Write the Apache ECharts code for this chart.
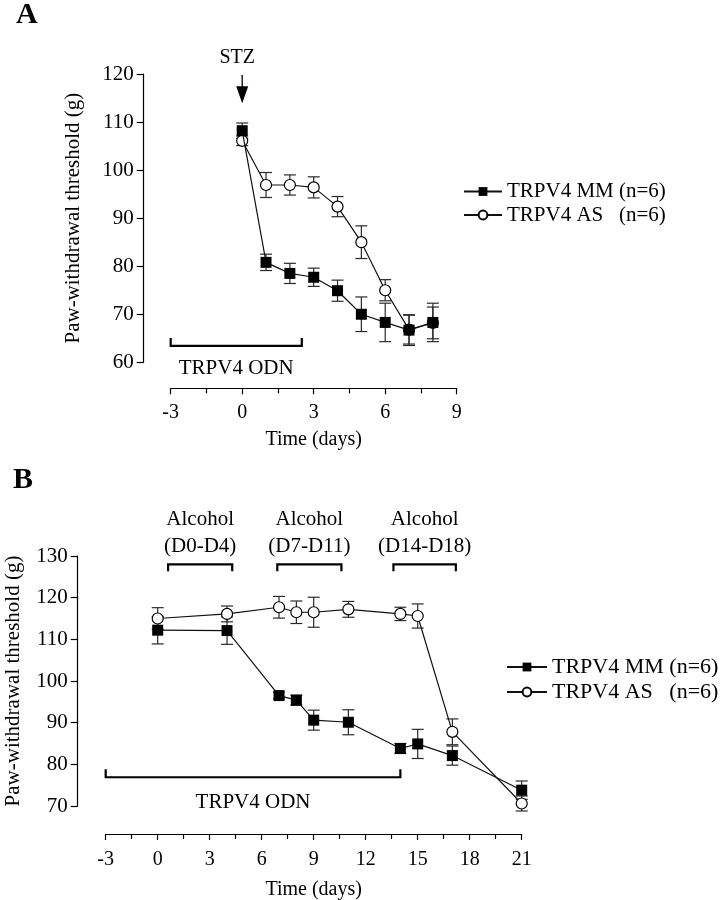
<!DOCTYPE html>
<html><head><meta charset="utf-8">
<script src="https://cdn.jsdelivr.net/npm/echarts@6/dist/echarts.min.js"></script>
<style>html,body{margin:0;padding:0;background:#fff}#c{width:721px;height:900px}</style>
</head><body><div id="c"></div>
<script>
const FONT = 'Liberation Serif';
const NAME_MM = 'TRPV4 MM (n=6)';
const NAME_AS = 'TRPV4 AS   (n=6)';

// ---- Panel A data ----
const daysA = [0, 1, 2, 3, 4, 5, 6, 7, 8];
const mmA    = [108.2, 80.8, 78.5, 77.7, 74.9, 70.0, 68.3, 66.7, 68.3];
const mmAErr = [1.6, 1.7, 2.1, 1.9, 2.2, 3.6, 4.0, 3.2, 4.0];
const asA    = [106.1, 96.9, 96.9, 96.4, 92.4, 85.0, 75.0, 66.8, 68.2];
const asAErr = [1.0, 2.6, 2.1, 2.2, 2.1, 3.4, 2.2, 3.0, 3.3];

// ---- Panel B data ----
const daysB = [0, 4, 7, 8, 9, 11, 14, 15, 17, 21];
const mmB    = [112.2, 112.1, 96.5, 95.4, 90.6, 90.1, 83.8, 84.9, 82.1, 73.8];
const mmBErr = [3.3, 3.3, 0.8, 1.2, 2.4, 3.0, 1.2, 3.5, 2.3, 2.2];
const asB    = [115.0, 116.1, 117.7, 116.5, 116.5, 117.2, 116.1, 115.6, 87.8, 70.6];
const asBErr = [2.6, 1.9, 2.6, 2.7, 3.6, 1.9, 1.6, 2.9, 3.1, 1.8];

// ---- Axis ranges / ticks ----
const xRangeA = [-3, 9, 3];
const yRangeA = [60, 120, 10];
const xRangeB = [-3, 21, 3];
const yRangeB = [70, 130, 10];

// ---- Annotations (data coordinates) ----
const odnA = [[-3, 2.5, 63.4]];
const odnTextA = ['TRPV4 ODN'];
const stzA = [[0, 119.8, 113.9]];
const stzText = ['STZ'];
const odnB = [[-3, 14, 76.9]];
const odnTextB = ['TRPV4 ODN'];
const alcB = [[0.6, 4.3, 128.0], [6.9, 10.6, 128.0], [13.6, 17.2, 128.0]];
const alcText1 = ['Alcohol', 'Alcohol', 'Alcohol'];
const alcText2 = ['(D0-D4)', '(D7-D11)', '(D14-D18)'];

const pts = (xs, ys) => xs.map((x, i) => [x, ys[i]]);
const errs = (xs, ys, es) => xs.map((x, i) => [x, ys[i], es[i]]);

function errRender(params, api) {
  const x = api.value(0), y = api.value(1), e = api.value(2);
  const t = api.coord([x, y + e]), b = api.coord([x, y - e]);
  const hw = 6;
  const st = { stroke: '#2a2a2a', lineWidth: 1.2 };
  return { type: 'group', children: [
    { type: 'line', shape: { x1: t[0], y1: t[1], x2: b[0], y2: b[1] }, style: st },
    { type: 'line', shape: { x1: t[0] - hw, y1: t[1], x2: t[0] + hw, y2: t[1] }, style: st },
    { type: 'line', shape: { x1: b[0] - hw, y1: b[1], x2: b[0] + hw, y2: b[1] }, style: st }
  ]};
}

function bracketUpRender(texts, textGap) {
  return function (params, api) {
    const a = api.coord([api.value(0), api.value(2)]);
    const b = api.coord([api.value(1), api.value(2)]);
    const leg = 8;
    const st = { stroke: '#000', lineWidth: 2.2, fill: null };
    return { type: 'group', children: [
      { type: 'polyline', shape: { points: [[a[0], a[1] - leg], [a[0], a[1]], [b[0], b[1]], [b[0], b[1] - leg]] }, style: st },
      { type: 'text', x: (a[0] + b[0]) / 2, y: a[1] + textGap,
        style: { text: texts[params.dataIndex], fontFamily: FONT, fontSize: 21, fill: '#000', align: 'center', verticalAlign: 'middle' } }
    ]};
  };
}

function bracketDownRender(params, api) {
  const a = api.coord([api.value(0), api.value(2)]);
  const b = api.coord([api.value(1), api.value(2)]);
  const leg = 7;
  const st = { stroke: '#000', lineWidth: 2.2, fill: null };
  const cx = (a[0] + b[0]) / 2;
  return { type: 'group', children: [
    { type: 'polyline', shape: { points: [[a[0], a[1] + leg], [a[0], a[1]], [b[0], b[1]], [b[0], b[1] + leg]] }, style: st },
    { type: 'text', x: cx, y: a[1] - 45, style: { text: alcText1[params.dataIndex], fontFamily: FONT, fontSize: 21, fill: '#000', align: 'center', verticalAlign: 'middle' } },
    { type: 'text', x: cx, y: a[1] - 18, style: { text: alcText2[params.dataIndex], fontFamily: FONT, fontSize: 21, fill: '#000', align: 'center', verticalAlign: 'middle' } }
  ]};
}

function arrowRender(params, api) {
  const t = api.coord([api.value(0), api.value(1)]);
  const b = api.coord([api.value(0), api.value(2)]);
  return { type: 'group', children: [
    { type: 'line', shape: { x1: t[0], y1: t[1], x2: b[0], y2: b[1] - 10 }, style: { stroke: '#000', lineWidth: 1.3 } },
    { type: 'polygon', shape: { points: [[b[0] - 6, b[1] - 17], [b[0] + 6, b[1] - 17], [b[0], b[1]]] }, style: { fill: '#000' } },
    { type: 'text', x: t[0] - 5, y: t[1] - 17, style: { text: stzText[params.dataIndex], fontFamily: FONT, fontSize: 20, fill: '#000', align: 'center', verticalAlign: 'middle' } }
  ]};
}

function xAxisCfg(gi, r, offset, margin, nameGap) {
  return {
    gridIndex: gi, type: 'value', min: r[0], max: r[1], interval: r[2], offset: offset,
    axisLine: { show: true, onZero: false, lineStyle: { color: '#000', width: 1.2 } },
    axisTick: { show: true, length: 6, lineStyle: { color: '#000', width: 1.2 } },
    minorTick: { show: true, splitNumber: 2, length: 5, lineStyle: { color: '#000', width: 1.2 } },
    splitLine: { show: false },
    axisLabel: { fontFamily: FONT, fontSize: 20, color: '#000', margin: margin },
    name: 'Time (days)', nameLocation: 'middle', nameGap: nameGap,
    nameTextStyle: { fontFamily: FONT, fontSize: 20, color: '#000' }
  };
}
function yAxisCfg(gi, r, offset, nameGap) {
  return {
    gridIndex: gi, type: 'value', min: r[0], max: r[1], interval: r[2], offset: offset,
    axisLine: { show: true, onZero: false, lineStyle: { color: '#000', width: 1.2 } },
    axisTick: { show: true, length: 7, lineStyle: { color: '#000', width: 1.2 } },
    splitLine: { show: false },
    axisLabel: { fontFamily: FONT, fontSize: 21, color: '#000', margin: 10 },
    name: 'Paw-withdrawal threshold (g)', nameLocation: 'middle', nameGap: nameGap, nameRotate: 90,
    nameTextStyle: { fontFamily: FONT, fontSize: 21, color: '#000' }
  };
}

const mmStyle = { symbol: 'rect', symbolSize: 11, itemStyle: { color: '#000' }, lineStyle: { color: '#111', width: 1.2 } };
const asStyle = { symbol: 'circle', symbolSize: 11, itemStyle: { color: '#fff', borderColor: '#000', borderWidth: 1.2 }, lineStyle: { color: '#111', width: 1.2 } };

const chart = echarts.init(document.getElementById('c'), null, { renderer: 'canvas' });
chart.setOption({
  animation: false,
  backgroundColor: '#fff',
  title: [
    { text: 'A', left: 16, top: 0, padding: 0, textStyle: { fontFamily: FONT, fontWeight: 'bold', fontSize: 30, color: '#000' } },
    { text: 'B', left: 13, top: 465, padding: 0, textStyle: { fontFamily: FONT, fontWeight: 'bold', fontSize: 30, color: '#000' } }
  ],
  legend: [
    { orient: 'vertical', left: 463, top: 181, padding: 0, itemWidth: 38, itemHeight: 11, itemGap: 2.5,
      textStyle: { fontFamily: FONT, fontSize: 21, color: '#000' }, data: [NAME_MM, NAME_AS] },
    { orient: 'vertical', left: 506, top: 656, padding: 0, itemWidth: 40, itemHeight: 11, itemGap: 3,
      textStyle: { fontFamily: FONT, fontSize: 22, color: '#000' }, data: [NAME_MM, NAME_AS] }
  ],
  grid: [
    { left: 170.7, top: 74, width: 286, height: 288.3, containLabel: false, outerBoundsMode: 'none' },
    { left: 105.7, top: 556, width: 416, height: 250, containLabel: false, outerBoundsMode: 'none' }
  ],
  xAxis: [xAxisCfg(0, xRangeA, 26, 14, 41), xAxisCfg(1, xRangeB, 28, 16, 46)],
  yAxis: [yAxisCfg(0, yRangeA, 27, 60), yAxisCfg(1, yRangeB, 28, 54)],
  series: [
    { type: 'custom', name: 'errAS_A', xAxisIndex: 0, yAxisIndex: 0, z: 1, renderItem: errRender, data: errs(daysA, asA, asAErr) },
    { type: 'custom', name: 'errMM_A', xAxisIndex: 0, yAxisIndex: 0, z: 1, renderItem: errRender, data: errs(daysA, mmA, mmAErr) },
    Object.assign({ type: 'line', name: NAME_AS, xAxisIndex: 0, yAxisIndex: 0, z: 3, data: pts(daysA, asA) }, asStyle),
    Object.assign({ type: 'line', name: NAME_MM, xAxisIndex: 0, yAxisIndex: 0, z: 4, data: pts(daysA, mmA) }, mmStyle),
    { type: 'custom', name: 'odnA', xAxisIndex: 0, yAxisIndex: 0, z: 5, clip: false, encode: { x: 0, y: 2 }, renderItem: bracketUpRender(odnTextA, 23), data: odnA },
    { type: 'custom', name: 'stzA', xAxisIndex: 0, yAxisIndex: 0, z: 5, clip: false, encode: { x: 0, y: 1 }, renderItem: arrowRender, data: stzA },

    { type: 'custom', name: 'errAS_B', xAxisIndex: 1, yAxisIndex: 1, z: 1, renderItem: errRender, data: errs(daysB, asB, asBErr) },
    { type: 'custom', name: 'errMM_B', xAxisIndex: 1, yAxisIndex: 1, z: 1, renderItem: errRender, data: errs(daysB, mmB, mmBErr) },
    Object.assign({ type: 'line', name: NAME_AS, xAxisIndex: 1, yAxisIndex: 1, z: 3, data: pts(daysB, asB) }, asStyle),
    Object.assign({ type: 'line', name: NAME_MM, xAxisIndex: 1, yAxisIndex: 1, z: 4, data: pts(daysB, mmB) }, mmStyle),
    { type: 'custom', name: 'odnB', xAxisIndex: 1, yAxisIndex: 1, z: 5, clip: false, encode: { x: 0, y: 2 }, renderItem: bracketUpRender(odnTextB, 25), data: odnB },
    { type: 'custom', name: 'alcB', xAxisIndex: 1, yAxisIndex: 1, z: 5, clip: false, encode: { x: 0, y: 2 }, renderItem: bracketDownRender, data: alcB }
  ]
});
</script></body></html>
